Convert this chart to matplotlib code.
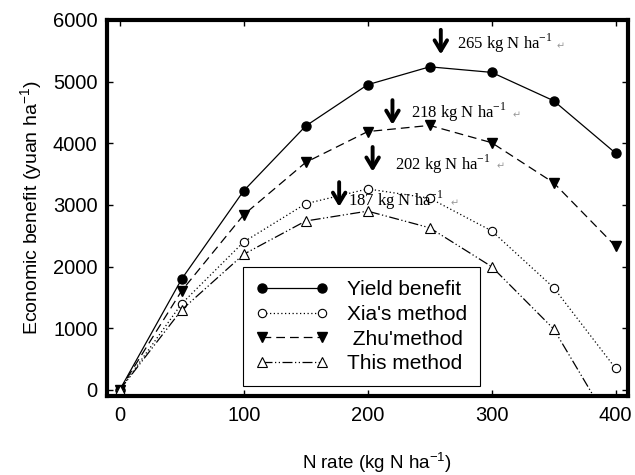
import numpy as np
import matplotlib.pyplot as plt

## Data ##
n_rate = [0, 50, 100, 150, 200, 250, 300, 350, 400]
yield_benefit = [0, 1800, 3230, 4280, 4950, 5240, 5150, 4690, 3840]
xia_method = [0, 1400, 2400, 3020, 3260, 3110, 2580, 1660, 350]
zhu_method = [0, 1610, 2840, 3690, 4190, 4290, 4010, 3360, 2330]
this_method = [0, 1300, 2200, 2740, 2900, 2630, 2000, 990, -700]

opt_rates = [265, 218, 202, 187]
arrow_x = [259, 220, 204, 177]
arrow_tip = [5440, 4300, 3540, 2970]
arrow_len = 400

# where the labels sit (data coords)
label_x = [272, 235, 222, 184]
label_y = [5620, 4500, 3660, 3070]
mark_x = [352, 317, 304, 267]

plt.rcParams['font.family'] = ['Liberation Sans', 'DejaVu Sans']

## Plot ##
fig = plt.figure(figsize=(6.35, 4.75), dpi=100)
ax = fig.add_axes([0.169, 0.166, 0.820, 0.792])

ax.plot(n_rate, yield_benefit, color='k', ls='-', lw=0.9, marker='o',
        ms=6.5, mfc='k', mec='k', label='Yield benefit')
ax.plot(n_rate, xia_method, color='k', ls=(0, (1, 2)), lw=0.9, marker='o',
        ms=6, mfc='white', mec='k', mew=0.8, label="Xia's method")
ax.plot(n_rate, zhu_method, color='k', ls=(0, (7, 4)), lw=0.9, marker='v',
        ms=7, mfc='k', mec='k', label=" Zhu'method")
ax.plot(n_rate, this_method, color='k', ls=(0, (8, 2, 1, 2, 1, 2)), lw=0.9,
        marker='^', ms=6.5, mfc='white', mec='k', mew=0.8, label='This method')

# arrows + optimum labels
for i in range(len(opt_rates)):
    ax.annotate('', xy=(arrow_x[i], arrow_tip[i]),
                xytext=(arrow_x[i], arrow_tip[i] + arrow_len),
                arrowprops=dict(arrowstyle='->, head_width=0.45, head_length=0.75',
                                color='k', lw=2.8, shrinkA=0, shrinkB=0))
    ax.text(label_x[i], label_y[i],
            '%d kg N ha$^{\\mathdefault{-1}}$' % opt_rates[i],
            family='Liberation Serif', fontsize=12, va='center', ha='left')
    # word paragraph marks left in the original figure
    ax.text(mark_x[i], label_y[i] - 40, '\u21b5', family=['DejaVu Sans'],
            fontsize=7, color='#999999', va='center', ha='left')

ax.set_xlim(-10, 410)
ax.set_ylim(-100, 6000)
ax.set_xticks([0, 100, 200, 300, 400])
ax.set_yticks([0, 1000, 2000, 3000, 4000, 5000, 6000])
ax.tick_params(direction='in', length=4, width=1, top=True, right=True,
               labelsize=14.5, pad=7)
for s in ax.spines.values():
    s.set_linewidth(3)

ax.set_xlabel('N rate (kg N ha$^{\\mathdefault{-1}}$)', fontsize=13.5,
              labelpad=18, x=0.517)
ax.set_ylabel('Economic benefit (yuan ha$^{\\mathdefault{-1}}$)', fontsize=14,
              labelpad=6)

leg = ax.legend(loc='lower left', bbox_to_anchor=(0.261, 0.027), numpoints=2,
                handlelength=3.5, fontsize=15, labelspacing=0.28, borderaxespad=0,
                fancybox=False, edgecolor='k', framealpha=1, borderpad=0.6,
                handletextpad=0.9)
leg.get_frame().set_linewidth(0.8)

plt.savefig('out.png', dpi=100)
plt.close()
